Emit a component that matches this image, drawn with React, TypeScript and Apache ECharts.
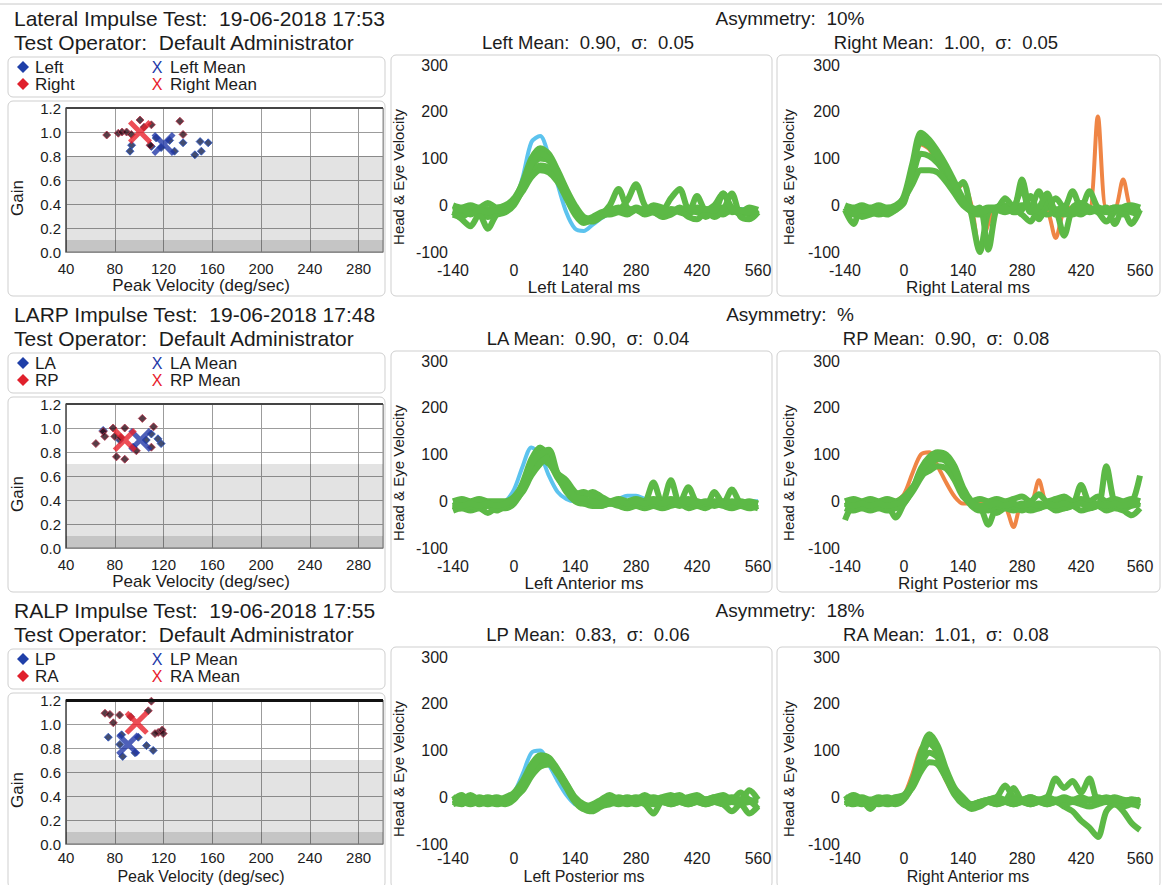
import React, { useEffect, useRef } from "react";
import * as echarts from "echarts";

// ---------- text ----------
const TITLES = [
  "Lateral Impulse Test:  19-06-2018 17:53",
  "LARP Impulse Test:  19-06-2018 17:48",
  "RALP Impulse Test:  19-06-2018 17:55",
];
const OPERATOR = "Test Operator:  Default Administrator";
const ASYMMETRY = ["Asymmetry:  10%", "Asymmetry:  %", "Asymmetry:  18%"];
const LEFT_MEAN_LABELS = ["Left Mean:  0.90,  σ:  0.05", "LA Mean:  0.90,  σ:  0.04", "LP Mean:  0.83,  σ:  0.06"];
const RIGHT_MEAN_LABELS = ["Right Mean:  1.00,  σ:  0.05", "RP Mean:  0.90,  σ:  0.08", "RA Mean:  1.01,  σ:  0.08"];
const LEFT_NAMES = ["Left", "LA", "LP"];
const RIGHT_NAMES = ["Right", "RP", "RA"];
const MID_AXIS_NAMES = ["Left Lateral ms", "Left Anterior ms", "Left Posterior ms"];
const RIGHT_AXIS_NAMES = ["Right Lateral ms", "Right Posterior ms", "Right Anterior ms"];
const GAIN_AXIS_NAME = "Gain";
const PV_AXIS_NAME = "Peak Velocity (deg/sec)";
const VEL_AXIS_NAME = "Head & Eye Velocity";
const SHADE_TOP = [0.8, 0.7, 0.7];

// ---------- scatter (peak velocity deg/s, gain) ----------
const LAT_LEFT = [[93.8, 0.89], [92.5, 0.84], [114, 0.95], [125, 0.93], [129, 0.84], [136, 0.91], [150, 0.92], [156.6, 0.91], [145.7, 0.81], [151, 0.84], [118, 0.87], [110, 0.88]];
const LAT_RIGHT = [[73.4, 0.975], [82.9, 0.99], [86, 1.0], [89.7, 1.0], [93.6, 0.98], [100.7, 1.1], [104, 1.04], [110, 1.06], [133.4, 1.09], [136, 0.98], [109, 0.89]];
const LAT_LEFT_MEAN = [[120, 0.9]];
const LAT_RIGHT_MEAN = [[100.7, 1.0]];

const LARP_LEFT = [[70.5, 0.98], [110, 0.95], [115.4, 0.91], [118, 0.87], [105.8, 0.9], [95, 0.84], [84, 0.9]];
const LARP_RIGHT = [[64.5, 0.87], [70.5, 0.97], [71.8, 0.93], [78.6, 1.0], [80, 0.93], [81.4, 0.76], [88.2, 0.74], [88.2, 1.0], [97.7, 0.81], [102.6, 1.08], [111.8, 1.01], [110, 0.84], [85, 0.92]];
const LARP_LEFT_MEAN = [[101, 0.9]];
const LARP_RIGHT_MEAN = [[88.2, 0.9]];

const RALP_LEFT = [[74.7, 0.89], [85.6, 0.91], [86.5, 0.73], [84.2, 0.83], [99.3, 0.89], [106, 0.82], [111.5, 0.78], [96.6, 0.76]];
const RALP_RIGHT = [[72, 1.09], [76, 1.08], [84, 1.075], [78.8, 1.01], [110, 1.19], [107.5, 1.11], [115.6, 0.93], [118.9, 0.95], [113, 0.92], [119.7, 0.92], [93, 1.06]];
const RALP_LEFT_MEAN = [[91, 0.83]];
const RALP_RIGHT_MEAN = [[98, 1.01]];

// ---------- velocity traces (deg/s) sampled every 20 ms ----------
const T_MS = [-140, -120, -100, -80, -60, -40, -20, 0, 20, 40, 60, 80, 100, 120, 140, 160, 180, 200, 220, 240, 260, 280, 300, 320, 340, 360, 380, 400, 420, 440, 460, 480, 500, 520, 540, 560];

const LL_HEAD = [-8, -8, -8, -8, -8, -8, -5, 5, 60, 135, 148, 105, 45, -15, -50, -55, -42, -28, -18, -12, -10, -8, -8, -8, -8, -8, -8, -8, -8, -8, -8, -8, -8, -8, -8, -8];
const LL_EYE_1 = [-10, -15, -5, -12, -8, -15, -5, 10, 50, 100, 122, 110, 75, 35, 0, -25, -30, -20, 0, 35, -5, -10, -15, -5, -10, 15, 35, -10, -15, -20, -10, -5, -15, -10, -20, -10];
const LL_EYE_2 = [-20, -25, -15, -20, -25, -20, -15, 0, 35, 80, 100, 95, 65, 25, -10, -35, -35, -25, -15, -10, 10, 45, 0, -15, -20, -10, -15, -20, -5, -25, -15, -20, -10, -20, -15, -20];
const LL_EYE_3 = [0, -5, 0, -5, 5, -5, 0, 15, 45, 70, 85, 80, 55, 20, -15, -30, -25, -15, -10, -5, -15, -5, -10, 0, -5, -15, -5, -15, 20, -10, 0, 25, -5, -15, -5, -10];
const LL_EYE_4 = [-15, -30, -45, -20, -50, -20, -10, 5, 30, 60, 75, 70, 50, 15, -20, -38, -30, -20, -20, -15, -20, -10, -20, -15, -25, -20, -10, -25, -30, -15, -25, -10, 25, -25, -30, -15];
const LL_EYE_5 = [-12, -8, -20, -10, -15, -10, -12, 8, 42, 88, 110, 100, 68, 30, -5, -30, -32, -22, -12, -8, -12, -8, -12, -8, -15, -8, -12, -5, -12, -8, -12, 25, -8, -12, -15, -12];

const RL_HEAD = [-10, -10, -10, -10, -10, -10, -5, 10, 70, 130, 120, 90, 60, 30, 45, 0, -95, -40, -5, -5, -5, -5, -5, -5, -10, -70, -10, -5, -5, -5, 190, -5, -5, 55, -5, -5];
const RL_EYE_1 = [-10, -40, -5, -10, -5, -10, -5, 20, 90, 155, 140, 115, 85, 50, 15, -5, -10, -5, -5, 15, -5, 55, -10, 30, -5, 15, -5, 30, -5, 30, -5, -10, -5, -10, -40, -10];
const RL_EYE_2 = [-20, -15, -20, -15, -20, -15, -10, 10, 60, 110, 105, 90, 65, 35, 50, -20, -100, -15, -10, -15, -10, -20, -35, -10, -20, -15, -20, -15, -20, -10, -15, -35, -15, -10, -15, -20];
const RL_EYE_3 = [0, -5, 0, -5, 0, -5, 0, 15, 45, 75, 75, 70, 50, 25, 0, -10, -5, -95, -5, 0, -5, 0, -5, -30, -5, -10, -65, -5, 5, -5, -10, -5, -40, -5, 0, -5];
const RL_EYE_4 = [-15, -10, -25, -20, -15, -20, -10, 5, 75, 135, 125, 100, 75, 40, 5, -15, -20, -10, -10, -5, -15, -10, 20, -15, 10, -20, -10, -20, -10, -15, -10, -15, -10, -20, -10, -15];
const RL_EYE_5 = [-5, -20, -10, -15, -10, -15, -5, 12, 80, 145, 130, 105, 80, 45, 10, -10, -15, -10, -5, -10, -5, 35, -15, -5, 25, -10, -5, -15, -5, -10, -5, -10, -5, -5, -10, -5];

const LA_HEAD = [-5, -5, -5, -5, -5, -5, 0, 25, 75, 115, 100, 55, 20, 5, 0, 0, 0, 0, 0, 5, 12, 12, 5, 0, 0, 0, 0, 0, 0, 0, 0, 0, 0, 0, 0, 0];
const LA_EYE_1 = [-10, -5, -10, -5, -10, -5, -5, 5, 40, 90, 115, 95, 60, 45, 20, 10, 20, 10, 0, -5, -5, -10, -5, 40, -5, 45, -5, 30, -5, -10, 20, -5, 25, -5, -10, -10];
const LA_EYE_2 = [-20, -15, -20, -15, -25, -15, -15, -5, 25, 75, 105, 85, 50, 25, 5, -5, -10, -10, -5, -10, -15, -10, -15, -10, -15, -10, -5, -15, -10, -15, -5, -10, -15, -10, -15, -10];
const LA_EYE_3 = [0, 5, 0, 5, 0, 0, 0, 10, 35, 70, 90, 80, 55, 30, 15, 20, 10, 5, 0, 5, 0, 5, 0, 5, 0, 5, 0, 5, 0, -5, 0, 0, -5, 0, -5, -5];
const LA_EYE_4 = [-10, -15, -10, -15, -10, -20, -10, 0, 20, 55, 80, 95, 55, 20, 0, -5, -5, -10, -5, -5, -10, -5, -10, -5, -10, -5, -10, -5, -10, -5, -10, -5, -10, -5, -10, -15];
const LA_EYE_5 = [-5, -10, -5, -10, -5, -10, -5, 5, 30, 80, 100, 110, 60, 35, 10, 5, 0, -5, -5, 0, -5, 0, -5, 0, -5, 0, -5, 0, -5, 0, -5, -5, 0, -5, 0, -5];

const RP_HEAD = [-5, -5, -5, -5, -5, -5, 0, 15, 60, 100, 105, 75, 40, 10, -5, -5, -5, -5, -5, -10, -55, -5, -5, 45, -5, -5, -5, -5, 30, -5, -5, -5, -5, -5, -5, -5];
const RP_EYE_1 = [-10, -5, -10, -5, -10, -5, -10, 0, 25, 60, 90, 100, 95, 60, 20, -5, -10, -50, -10, -5, -10, -5, -10, -5, -10, -5, 5, -5, 35, -5, -10, 75, -5, -10, -5, 55];
const RP_EYE_2 = [-40, -10, -15, -10, -15, -10, -35, -5, 20, 50, 75, 90, 85, 55, 15, -10, -20, -15, -25, -15, -20, -15, -20, -15, -10, -20, -15, -10, -20, -15, -10, -20, -15, -20, -30, -15];
const RP_EYE_3 = [0, 5, 0, 5, 0, 5, 0, 10, 30, 55, 65, 75, 70, 45, 10, 0, 5, 0, 5, 0, 5, 10, 0, 15, 0, 5, 10, 0, 5, 0, 10, 0, 5, 0, 5, 0];
const RP_EYE_4 = [-15, -20, -15, -20, -15, -20, -15, -5, 25, 70, 95, 105, 100, 75, 30, 0, -15, -20, -10, -15, -10, -20, -10, -15, -5, -10, -15, -10, -5, -15, -10, -5, -10, -15, -10, -5];
const RP_EYE_5 = [-5, -10, -5, -10, -5, -10, -5, 0, 25, 65, 85, 95, 90, 65, 25, -5, -10, -10, -5, -10, -5, -10, -5, -10, -5, -10, -5, -10, -5, -10, -5, -10, -5, -10, -5, -10];

const LP_HEAD = [-5, -5, -5, -5, -5, -5, -5, 10, 50, 95, 100, 70, 35, 5, -15, -20, -20, -15, -10, -5, -5, -5, -5, -5, -5, -5, -5, -5, -5, -5, -5, -5, -5, -5, -5, -5];
const LP_EYE_1 = [-5, 5, -10, 0, -5, 0, -5, 5, 30, 65, 85, 80, 55, 25, -5, -20, -15, -5, 5, -5, 0, -5, 5, -5, 0, 5, -5, 0, 5, -5, 0, 5, -5, 10, -5, -10];
const LP_EYE_2 = [-15, -10, -15, -10, -15, -10, -15, -5, 20, 55, 75, 75, 55, 25, -5, -25, -30, -20, -15, -10, -15, -10, -15, -35, -10, -15, -10, -15, -10, -15, -10, -15, -30, -15, -35, -20];
const LP_EYE_3 = [0, -5, 5, -5, 0, -5, 0, 10, 35, 70, 90, 85, 60, 30, 0, -15, -20, -10, -5, 0, -5, 0, -5, 0, -5, 0, 5, -5, 0, -5, 0, -5, 0, -5, 15, -5];
const LP_EYE_4 = [-10, -15, -5, -15, -10, -15, -10, 0, 15, 45, 65, 70, 50, 20, -10, -25, -25, -15, -10, -15, -10, -15, -10, -15, -10, -15, -10, -15, -10, -15, -10, -15, -10, -15, -10, -25];
const LP_EYE_5 = [-5, -10, 0, -10, -5, -10, -5, 5, 25, 60, 80, 78, 58, 28, -2, -20, -22, -12, -8, -5, -8, -5, -8, -5, -8, -5, -8, -5, -8, -5, -8, -5, -8, -5, -8, -5];

const RA_HEAD = [-5, -5, -5, -5, -5, -5, -5, 5, 50, 105, 120, 80, 35, 5, -10, -15, -10, -5, -5, -5, -5, -5, -5, -5, -5, -5, -5, -5, -5, -5, -5, -5, -5, -5, -5, -5];
const RA_EYE_1 = [-5, 5, -5, -25, -5, 0, -5, 0, 35, 95, 135, 110, 60, 20, 0, -15, -10, -5, 0, 25, 0, -5, 0, -5, 0, 40, 20, 35, 10, 40, -5, 0, -5, -10, -5, -10];
const RA_EYE_2 = [-15, -10, -15, -10, -15, -10, -15, -5, 25, 80, 115, 95, 50, 10, -10, -25, -20, -10, -15, -10, -15, -10, -15, -10, -15, -10, -20, -30, -50, -65, -85, -30, -15, -30, -55, -70];
const RA_EYE_3 = [0, -5, 0, -5, 0, -5, 0, 5, 30, 70, 95, 85, 45, 10, -5, -15, -10, -5, 0, -5, 20, -5, 0, -5, 0, -5, 0, -5, 0, -5, 0, -5, 0, -5, -10, -5];
const RA_EYE_4 = [-10, -15, -10, -15, -10, -15, -10, 0, 20, 55, 75, 70, 40, 5, -15, -20, -15, -10, -15, -10, -15, -10, -15, -10, -15, -10, -15, -10, -15, -20, -15, -10, -15, -20, -15, -20];
const RA_EYE_5 = [-5, -10, -5, -10, -5, -10, -5, 2, 28, 85, 125, 100, 52, 15, -8, -20, -15, -8, -5, -8, -5, -8, -5, -8, -5, -8, -5, -8, -5, -8, -5, -8, -5, -8, -5, -8];

// ---------- styling ----------
const FONT = "'Liberation Sans', Arial, sans-serif";
const TEXT_COLOR = "#1c1c1c";
const BLUE_HEAD = "#5cc3ee";
const ORANGE_HEAD = "#ef8545";
const GREEN_EYE = "#5cb946";
const ROW_OFFSETS = [0, 296, 592];
const X_PATH = "path://M3,0 L10,7 L17,0 L20,3 L13,10 L20,17 L17,20 L10,13 L3,20 L0,17 L7,10 L0,3 Z";

const SCATTER_SETS = [
  { left: LAT_LEFT, right: LAT_RIGHT, lm: LAT_LEFT_MEAN, rm: LAT_RIGHT_MEAN },
  { left: LARP_LEFT, right: LARP_RIGHT, lm: LARP_LEFT_MEAN, rm: LARP_RIGHT_MEAN },
  { left: RALP_LEFT, right: RALP_RIGHT, lm: RALP_LEFT_MEAN, rm: RALP_RIGHT_MEAN },
];
const CURVE_SETS = [
  { head: LL_HEAD, color: BLUE_HEAD, eyes: [LL_EYE_1, LL_EYE_2, LL_EYE_3, LL_EYE_4, LL_EYE_5] },
  { head: RL_HEAD, color: ORANGE_HEAD, eyes: [RL_EYE_1, RL_EYE_2, RL_EYE_3, RL_EYE_4, RL_EYE_5] },
  { head: LA_HEAD, color: BLUE_HEAD, eyes: [LA_EYE_1, LA_EYE_2, LA_EYE_3, LA_EYE_4, LA_EYE_5] },
  { head: RP_HEAD, color: ORANGE_HEAD, eyes: [RP_EYE_1, RP_EYE_2, RP_EYE_3, RP_EYE_4, RP_EYE_5] },
  { head: LP_HEAD, color: BLUE_HEAD, eyes: [LP_EYE_1, LP_EYE_2, LP_EYE_3, LP_EYE_4, LP_EYE_5] },
  { head: RA_HEAD, color: ORANGE_HEAD, eyes: [RA_EYE_1, RA_EYE_2, RA_EYE_3, RA_EYE_4, RA_EYE_5] },
];

function txt(text: string, x: number, y: number, size: number, align = "left", rotation = 0, color = TEXT_COLOR) {
  return {
    type: "text",
    x,
    y,
    rotation,
    silent: true,
    style: {
      text,
      fill: color,
      font: `${size}px ${FONT}`,
      fontSize: size,
      fontFamily: FONT,
      align,
      textAlign: align,
      verticalAlign: "middle",
      textVerticalAlign: "middle",
    },
  };
}

function diamond(x: number, y: number, color: string) {
  return {
    type: "polygon",
    silent: true,
    shape: { points: [[x, y - 6], [x + 6, y], [x, y + 6], [x - 6, y]] },
    style: { fill: color },
  };
}

function box(x: number, y: number, w: number, h: number) {
  return {
    type: "rect",
    silent: true,
    shape: { x, y, width: w, height: h, r: 5 },
    style: { fill: "none", stroke: "#cfcfcf", lineWidth: 1 },
  };
}

function buildOption() {
  const grid: any[] = [];
  const xAxis: any[] = [];
  const yAxis: any[] = [];
  const series: any[] = [];
  const graphic: any[] = [];

  const label = (size: number, margin: number, extra: any = {}) => ({
    fontSize: size,
    fontFamily: FONT,
    color: TEXT_COLOR,
    margin,
    ...extra,
  });

  graphic.push({ type: "line", silent: true, shape: { x1: 0, y1: 4, x2: 1162, y2: 4 }, style: { stroke: "#c8c8c8", lineWidth: 1 } });

  for (let r = 0; r < 3; r++) {
    const o = ROW_OFFSETS[r];
    const last = r === 2;
    // ---- grids ----
    grid.push({ left: 66, top: 108 + o, width: 317, height: 144, show: true, borderColor: "#8c8c8c", borderWidth: 1, backgroundColor: "#fff" });
    grid.push({ left: 453, top: 65 + o, width: 305, height: 187 });
    grid.push({ left: 845, top: 65 + o, width: 295, height: 187 });
    const gs = r * 3;

    // scatter axes
    xAxis.push({
      gridIndex: gs, type: "value", min: 40, max: 300, interval: 40,
      axisLabel: label(15, last ? 6 : 9, { showMaxLabel: false }),
      axisTick: { show: false },
      axisLine: { show: true, lineStyle: { color: "#8c8c8c" } },
      splitLine: { show: true, lineStyle: { color: "#9c9c9c", width: 1 } },
    });
    yAxis.push({
      gridIndex: gs, type: "value", min: 0, max: 1.2, interval: 0.2,
      axisLabel: label(15, 5, { formatter: (v: number) => v.toFixed(1) }),
      axisTick: { show: false },
      axisLine: { show: true, lineStyle: { color: "#555", width: 1.5 } },
      splitLine: { show: true, lineStyle: { color: "#9c9c9c", width: 1 } },
    });
    // curve axes
    for (let k = 1; k <= 2; k++) {
      xAxis.push({
        gridIndex: gs + k, type: "value", min: -140, max: 560, interval: 140,
        axisLabel: label(16, last ? 6 : 10),
        axisTick: { show: false }, axisLine: { show: false }, splitLine: { show: false },
      });
      yAxis.push({
        gridIndex: gs + k, type: "value", min: -100, max: 300, interval: 100,
        axisLabel: label(16, 5),
        axisTick: { show: false }, axisLine: { show: false }, splitLine: { show: false },
      });
    }

    // ---- scatter series ----
    const s = SCATTER_SETS[r];
    series.push({
      type: "scatter", xAxisIndex: gs, yAxisIndex: gs, data: s.left, symbol: "diamond", symbolSize: 8,
      itemStyle: { color: "#14204e", borderColor: "#2a56c8", borderWidth: 1 }, z: 3,
      markArea: {
        silent: true,
        data: [
          [{ yAxis: 0, itemStyle: { color: "rgba(0,0,0,0.11)" } }, { yAxis: SHADE_TOP[r] }],
          [{ yAxis: 0, itemStyle: { color: "rgba(0,0,0,0.13)" } }, { yAxis: 0.1 }],
        ],
      },
      markLine: {
        silent: true, symbol: "none", label: { show: false },
        lineStyle: { color: last ? "#111" : "#444", width: last ? 3 : 2, type: "solid" },
        data: [{ yAxis: 1.2 }],
      },
    });
    series.push({
      type: "scatter", xAxisIndex: gs, yAxisIndex: gs, data: s.right, symbol: "diamond", symbolSize: 8,
      itemStyle: { color: "#2e0c18", borderColor: "#b8344c", borderWidth: 1 }, z: 3,
    });
    series.push({
      type: "scatter", xAxisIndex: gs, yAxisIndex: gs, data: s.lm, symbol: X_PATH, symbolSize: 24,
      itemStyle: { color: "#2238a8" }, z: 4,
    });
    series.push({
      type: "scatter", xAxisIndex: gs, yAxisIndex: gs, data: s.rm, symbol: X_PATH, symbolSize: 24,
      itemStyle: { color: "#e8202c" }, z: 4,
    });

    // ---- curve series ----
    for (let k = 1; k <= 2; k++) {
      const c = CURVE_SETS[r * 2 + (k - 1)];
      const idx = gs + k;
      series.push({
        type: "line", xAxisIndex: idx, yAxisIndex: idx, showSymbol: false, smooth: 0.3,
        data: T_MS.map((t, i) => [t, c.head[i]]),
        lineStyle: { color: c.color, width: 4 }, z: 2,
      });
      c.eyes.forEach((e) => {
        series.push({
          type: "line", xAxisIndex: idx, yAxisIndex: idx, showSymbol: false, smooth: 0.3,
          data: T_MS.map((t, i) => [t, e[i]]),
          lineStyle: { color: GREEN_EYE, width: 6 }, z: 3,
        });
      });
    }

    // ---- graphics: boxes ----
    graphic.push(box(8, 57 + o, 377, 40));
    graphic.push(box(8, 101 + o, 377, 195));
    graphic.push(box(391, 55 + o, 381, 241));
    graphic.push(box(777, 55 + o, 383, 241));

    // ---- header texts ----
    graphic.push(txt(TITLES[r], 14, 18 + o, 21));
    graphic.push(txt(OPERATOR, 14, 42 + o, 21));
    graphic.push(txt(ASYMMETRY[r], 790, 18 + o, 19, "center"));
    graphic.push(txt(LEFT_MEAN_LABELS[r], 588, 42 + o, 18.5, "center"));
    graphic.push(txt(RIGHT_MEAN_LABELS[r], 946, 42 + o, 18.5, "center"));

    // ---- legend ----
    graphic.push(diamond(23, 67 + o, "#1f3fa8"));
    graphic.push(txt(LEFT_NAMES[r], 35, 67 + o, 17));
    graphic.push(diamond(23, 84 + o, "#e0202c"));
    graphic.push(txt(RIGHT_NAMES[r], 35, 84 + o, 17));
    graphic.push(txt("X", 157, 67 + o, 16, "center", 0, "#2238a8"));
    graphic.push(txt(LEFT_NAMES[r] + " Mean", 170, 67 + o, 17));
    graphic.push(txt("X", 157, 84 + o, 16, "center", 0, "#e8202c"));
    graphic.push(txt(RIGHT_NAMES[r] + " Mean", 170, 84 + o, 17));

    // ---- axis names ----
    const nameSize = last ? 16 : 17;
    const curveNameY = last ? 876 : 287 + o;
    const pvNameY = last ? 876 : 285 + o;
    graphic.push(txt(GAIN_AXIS_NAME, 17, 198 + o, 17, "center", Math.PI / 2));
    graphic.push(txt(PV_AXIS_NAME, 201, pvNameY, nameSize, "center"));
    graphic.push(txt(VEL_AXIS_NAME, 398, 177 + o, 15, "center", Math.PI / 2));
    graphic.push(txt(MID_AXIS_NAMES[r], 584, curveNameY, nameSize, "center"));
    graphic.push(txt(VEL_AXIS_NAME, 788, 177 + o, 15, "center", Math.PI / 2));
    graphic.push(txt(RIGHT_AXIS_NAMES[r], 968, curveNameY, nameSize, "center"));
  }

  return {
    animation: false,
    backgroundColor: "#fff",
    textStyle: { fontFamily: FONT },
    grid,
    xAxis,
    yAxis,
    series,
    graphic: { elements: graphic },
  };
}

export default function App() {
  const ref = useRef<HTMLDivElement>(null);
  useEffect(() => {
    document.body.style.margin = "0";
    const chart = echarts.init(ref.current as HTMLDivElement, null, { renderer: "svg" });
    chart.setOption(buildOption() as any);
    return () => chart.dispose();
  }, []);
  return <div ref={ref} style={{ width: 1162, height: 885 }} />;
}
